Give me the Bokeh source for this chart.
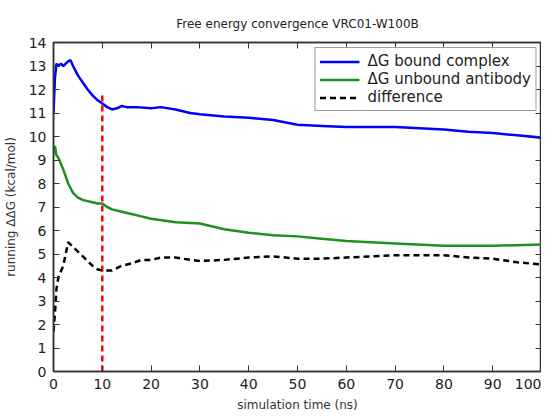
from bokeh.plotting import figure
from bokeh.models import LinearAxis, Range1d, Legend, LegendItem, FixedTicker
from bokeh.embed import file_html
from bokeh.resources import INLINE

# Data
t_bound = [0, 0.3, 0.6, 1, 1.5, 2, 2.5, 3, 3.5, 4, 5, 6, 7, 8, 9, 10, 11, 12, 13, 14, 15, 17, 20, 22, 25, 28, 30, 35, 40, 45, 50, 55, 60, 65, 70, 75, 80, 85, 90, 95, 100]
dg_bound = [11.0, 12.5, 13.1, 13.0, 13.1, 13.0, 13.1, 13.2, 13.25, 13.0, 12.6, 12.3, 12.0, 11.75, 11.55, 11.4, 11.25, 11.15, 11.2, 11.3, 11.25, 11.25, 11.2, 11.25, 11.15, 11.0, 10.95, 10.85, 10.8, 10.7, 10.5, 10.45, 10.4, 10.4, 10.4, 10.35, 10.3, 10.2, 10.15, 10.05, 9.95]

t_unbound = [0, 0.3, 0.6, 1, 2, 3, 4, 5, 6, 7, 8, 9, 10, 11, 12, 14, 16, 18, 20, 25, 30, 35, 40, 45, 50, 55, 60, 70, 80, 90, 100]
dg_unbound = [9.3, 9.6, 9.2, 9.1, 8.6, 8.0, 7.6, 7.4, 7.3, 7.25, 7.2, 7.15, 7.15, 7.0, 6.9, 6.8, 6.7, 6.6, 6.5, 6.35, 6.3, 6.05, 5.9, 5.8, 5.75, 5.65, 5.55, 5.45, 5.35, 5.35, 5.4]

t_diff = [0, 0.3, 0.6, 1, 2, 3, 4, 5, 6, 7, 8, 9, 10, 12, 14, 16, 18, 20, 22, 25, 28, 30, 35, 40, 45, 50, 55, 60, 65, 70, 75, 80, 85, 90, 95, 100]
dg_diff = [1.7, 2.5, 3.5, 4.0, 4.5, 5.5, 5.3, 5.1, 4.9, 4.7, 4.5, 4.35, 4.3, 4.3, 4.5, 4.6, 4.75, 4.75, 4.85, 4.85, 4.75, 4.7, 4.75, 4.85, 4.9, 4.8, 4.8, 4.85, 4.9, 4.95, 4.95, 4.95, 4.85, 4.8, 4.65, 4.55]

marker_x = [10]
marker_y0 = [0]
marker_y1 = [11.8]

x_ticks = list(range(0, 101, 10))
y_ticks = list(range(0, 15))

FONT = "DejaVu Sans"

p = figure(width=541, height=416, output_backend="svg", toolbar_location=None,
           x_range=Range1d(0, 100), y_range=Range1d(0, 14),
           title="Free energy convergence VRC01-W100B",
           min_border_left=50, min_border_right=0, min_border_top=42, min_border_bottom=45)

p.title.align = "center"
p.title.text_font = FONT
p.title.text_font_size = "12px"
p.title.text_font_style = "normal"
p.title.text_color = "#222222"
p.title.standoff = 23
p.title.offset = -5

p.xgrid.visible = False
p.ygrid.visible = False
p.outline_line_color = "#333333"
p.outline_line_width = 1.5
p.background_fill_color = "white"
p.border_fill_color = "white"

def style_axis(ax, ticks, labels=True):
    ax.ticker = FixedTicker(ticks=ticks)
    ax.minor_tick_line_color = None
    ax.major_tick_in = 6
    ax.major_tick_out = 0
    ax.major_tick_line_color = "#333333"
    ax.axis_line_color = "#333333"
    ax.axis_line_width = 1.5
    ax.major_label_text_font = FONT
    if labels:
        ax.major_label_text_font_size = "14px"
        ax.major_label_text_color = "#222222"
        ax.major_label_standoff = 7
    else:
        ax.major_label_text_font_size = "1px"
        ax.major_label_text_color = None
        ax.major_label_standoff = 0
    ax.axis_label_text_font = FONT
    ax.axis_label_text_font_size = "12px"
    ax.axis_label_text_font_style = "normal"
    ax.axis_label_text_color = "#333333"

style_axis(p.xaxis[0], x_ticks)
style_axis(p.yaxis[0], y_ticks)
p.xaxis[0].axis_label = "simulation time (ns)"
p.xaxis[0].axis_label_standoff = 6
p.yaxis[0].axis_label = "running ΔΔG (kcal/mol)"
p.yaxis[0].axis_label_standoff = 8

top_ax = LinearAxis()
style_axis(top_ax, x_ticks, labels=False)
p.add_layout(top_ax, "above")
right_ax = LinearAxis()
style_axis(right_ax, y_ticks, labels=False)
p.add_layout(right_ax, "right")

p.segment(x0=marker_x, y0=marker_y0, x1=marker_x, y1=marker_y1,
          line_color="#ff0000", line_width=2.5, line_dash="6 4")

r1 = p.line(t_bound, dg_bound, line_color="#0000ff", line_width=2.5)
r2 = p.line(t_unbound, dg_unbound, line_color="#1f8f1f", line_width=2.5)
r3 = p.line(t_diff, dg_diff, line_color="#000000", line_width=2.5, line_dash="6 4")

legend = Legend(items=[
    LegendItem(label="ΔG bound complex", renderers=[r1]),
    LegendItem(label="ΔG unbound antibody", renderers=[r2]),
    LegendItem(label="difference", renderers=[r3]),
], location="top_right")
legend.label_text_font = FONT
legend.label_text_font_size = "15px"
legend.label_text_color = "#222222"
legend.border_line_color = "#333333"
legend.border_line_width = 1.2
legend.background_fill_alpha = 1.0
legend.margin = 5
legend.padding = 4
legend.spacing = 0
legend.label_height = 17
legend.glyph_height = 17
legend.glyph_width = 40
legend.label_standoff = 8
p.add_layout(legend)

open("out.html", "w").write(file_html(p, INLINE))
